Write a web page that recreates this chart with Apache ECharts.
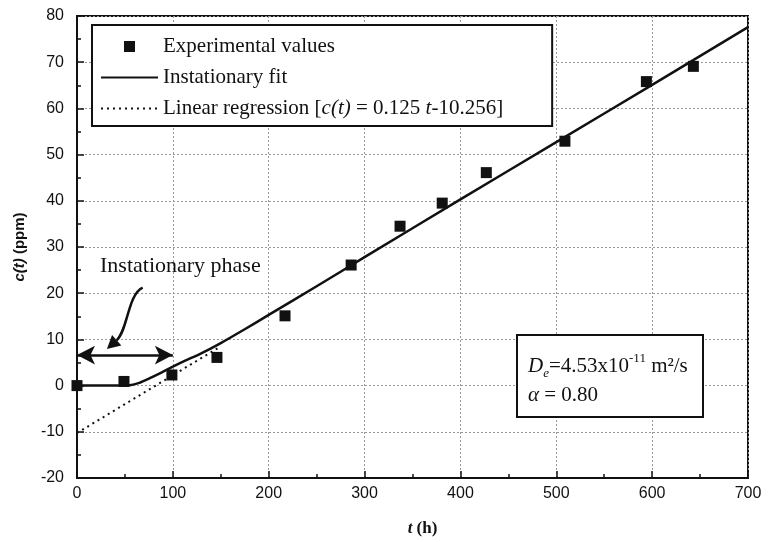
<!DOCTYPE html>
<html>
<head>
<meta charset="utf-8">
<script src="https://cdn.jsdelivr.net/npm/echarts@6/dist/echarts.min.js"></script>
<style>
  html, body { margin: 0; background: #fff; }
  #main { width: 769px; height: 542px; }
</style>
</head>
<body>
<div id="main"></div>
<script>
// measured points
const tExp = [0, 49, 99, 146, 217, 286, 337, 381, 427, 509, 594, 643]
const cExp = [0, 0.9, 2.3, 6.1, 15.1, 26.1, 34.5, 39.5, 46.1, 52.9, 65.8, 69.1]
// instationary fit curve
const tFit = [0, 20, 40, 55, 65, 76, 88, 100, 114, 128, 150, 175, 200, 250, 300, 400, 500, 600, 700]
const cFit = [0, 0, 0, 0.1, 0.6, 1.6, 2.8, 4.1, 5.5, 6.8, 9.2, 12.2, 15.3, 21.5, 27.8, 40.3, 52.7, 65.1, 77.6]
// linear regression segment
const tReg = [0, 150]
const cReg = [-10.26, 8.49]
// axes
const xRange = [0, 700, 100]
const yRange = [-20, 80, 10]
// annotations (data coords)
const phaseSpan = [0, 100]
const phaseLevel = 6.6
const pointerCurve = [[68.5, 21.2], [52.9, 19.7], [52.9, 11.9], [41.4, 9.8]]

const serif = '"Liberation Serif", "Times New Roman", serif'
const sans = '"Liberation Sans", Arial, sans-serif'
const ink = '#111'

const names = ['Experimental values', 'Instationary fit', 'Linear regression']

const chart = echarts.init(document.getElementById('main'))

const option = {
  animation: false,
  grid: {
    left: 77, right: 21, top: 16, bottom: 61,
    show: true, borderColor: ink, borderWidth: 2
  },
  legend: {
    data: [
      { name: names[0], icon: 'path://M0,0h10v10h-10z' },
      { name: names[1], itemStyle: { opacity: 0 } },
      { name: names[2], itemStyle: { opacity: 0 } }
    ],
    orient: 'vertical',
    left: 92, top: 25,
    padding: [11, 49, 7, 8],
    itemWidth: 57, itemHeight: 11, itemGap: 10, itemTextGap: 10,
    borderColor: ink, borderWidth: 2, backgroundColor: '#fff',
    selectedMode: false,
    textStyle: {
      fontFamily: serif, fontSize: 21, color: ink, lineHeight: 21,
      rich: {
        i: { fontFamily: serif, fontSize: 21, fontStyle: 'italic', color: ink, lineHeight: 21 }
      }
    },
    formatter(name) {
      if (name === 'Linear regression') {
        return 'Linear regression [{i|c(t)} = 0.125 {i|t}-10.256]'
      }
      return name
    }
  },
  xAxis: {
    type: 'value',
    min: xRange[0], max: xRange[1], interval: xRange[2],
    name: '{i|t} (h)',
    nameLocation: 'middle',
    nameGap: 42,
    nameTextStyle: {
      fontFamily: serif, fontSize: 17, fontWeight: 'bold', color: ink,
      padding: [0, 0, 0, 20],
      rich: { i: { fontFamily: serif, fontSize: 17, fontWeight: 'bold', fontStyle: 'italic', color: ink } }
    },
    axisLine: { onZero: false, lineStyle: { color: ink, width: 2 } },
    axisTick: { inside: true, length: 7, lineStyle: { color: ink, width: 1.5 } },
    minorTick: { show: true, splitNumber: 2, length: 4, lineStyle: { color: ink, width: 1.5 } },
    axisLabel: { fontFamily: sans, fontSize: 16, color: ink, margin: 8 },
    splitLine: { show: true, lineStyle: { color: '#999', width: 1, type: [2, 2] } }
  },
  yAxis: {
    type: 'value',
    min: yRange[0], max: yRange[1], interval: yRange[2],
    name: '{i|c(t)} (ppm)',
    nameLocation: 'middle',
    nameGap: 50,
    nameTextStyle: {
      fontFamily: sans, fontSize: 15, fontWeight: 'bold', color: ink,
      rich: { i: { fontFamily: sans, fontSize: 15, fontWeight: 'bold', fontStyle: 'italic', color: ink } }
    },
    axisLine: { onZero: false, lineStyle: { color: ink, width: 2 } },
    axisTick: { inside: true, length: 7, lineStyle: { color: ink, width: 1.5 } },
    minorTick: { show: true, splitNumber: 2, length: 4, lineStyle: { color: ink, width: 1.5 } },
    axisLabel: { fontFamily: sans, fontSize: 16, color: ink, margin: 13 },
    splitLine: { show: true, lineStyle: { color: '#999', width: 1, type: [2, 2] } }
  },
  series: [
    {
      name: names[2],
      type: 'line',
      symbol: 'none',
      color: ink,
      lineStyle: { color: ink, width: 2, type: [2, 4] },
      data: tReg.map((t, i) => [t, cReg[i]]),
      z: 2
    },
    {
      name: names[1],
      type: 'line',
      symbol: 'none',
      smooth: 0.3,
      color: ink,
      lineStyle: { color: ink, width: 2.5 },
      data: tFit.map((t, i) => [t, cFit[i]]),
      markLine: {
        silent: true,
        symbol: ['arrow', 'arrow'],
        symbolSize: [14, 18],
        label: { show: false },
        lineStyle: { color: ink, width: 2.5, type: 'solid' },
        data: [[{ coord: [phaseSpan[0], phaseLevel] }, { coord: [phaseSpan[1], phaseLevel] }]]
      },
      z: 3
    },
    {
      name: names[0],
      type: 'scatter',
      symbol: 'rect',
      symbolSize: 11,
      itemStyle: { color: ink, opacity: 1 },
      data: tExp.map((t, i) => [t, cExp[i]]),
      z: 4
    }
  ]
}

chart.setOption(option)

// pointer arrow + text boxes
const p = pointerCurve.map(d => chart.convertToPixel({ gridIndex: 0 }, d))
const end = p[3]
const dx = end[0] - p[2][0]
const dy = end[1] - p[2][1]
const len = Math.hypot(dx, dy)
const ux = dx / len, uy = dy / len
const tip = [end[0] + ux * 13, end[1] + uy * 13]
const wing = 7

chart.setOption({
  graphic: [
    {
      type: 'bezierCurve',
      shape: {
        x1: p[0][0], y1: p[0][1],
        cpx1: p[1][0], cpy1: p[1][1],
        cpx2: p[2][0], cpy2: p[2][1],
        x2: end[0], y2: end[1]
      },
      style: { stroke: ink, lineWidth: 2.5, fill: null },
      z: 10
    },
    {
      type: 'polygon',
      shape: {
        points: [
          tip,
          [end[0] - uy * wing, end[1] + ux * wing],
          [end[0] + uy * wing, end[1] - ux * wing]
        ]
      },
      style: { fill: ink },
      z: 10
    },
    {
      type: 'text',
      left: 100, top: 255,
      style: { text: 'Instationary phase', fontFamily: serif, fontSize: 22, fill: ink },
      z: 10
    },
    {
      type: 'rect',
      shape: { x: 517, y: 335, width: 186, height: 82 },
      style: { fill: '#fff', stroke: ink, lineWidth: 2 },
      z: 10
    },
    {
      type: 'text',
      x: 528, y: 366,
      style: {
        text: '{i|D}{sub|e}=4.53x10{sup|-11} m²/s',
        fontFamily: serif, fontSize: 21, fill: ink,
        verticalAlign: 'middle',
        rich: {
          i: { fontFamily: serif, fontSize: 21, fontStyle: 'italic', fill: ink, lineHeight: 28 },
          sub: { fontFamily: serif, fontSize: 13, fontStyle: 'italic', fill: ink, verticalAlign: 'bottom', lineHeight: 28 },
          sup: { fontFamily: serif, fontSize: 13, fill: ink, verticalAlign: 'top', lineHeight: 28 }
        }
      },
      z: 11
    },
    {
      type: 'text',
      x: 528, y: 395,
      style: {
        text: '{i|α} = 0.80',
        fontFamily: serif, fontSize: 21, fill: ink,
        verticalAlign: 'middle',
        rich: { i: { fontFamily: serif, fontSize: 21, fontStyle: 'italic', fill: ink } }
      },
      z: 11
    }
  ]
})
</script>
</body>
</html>
